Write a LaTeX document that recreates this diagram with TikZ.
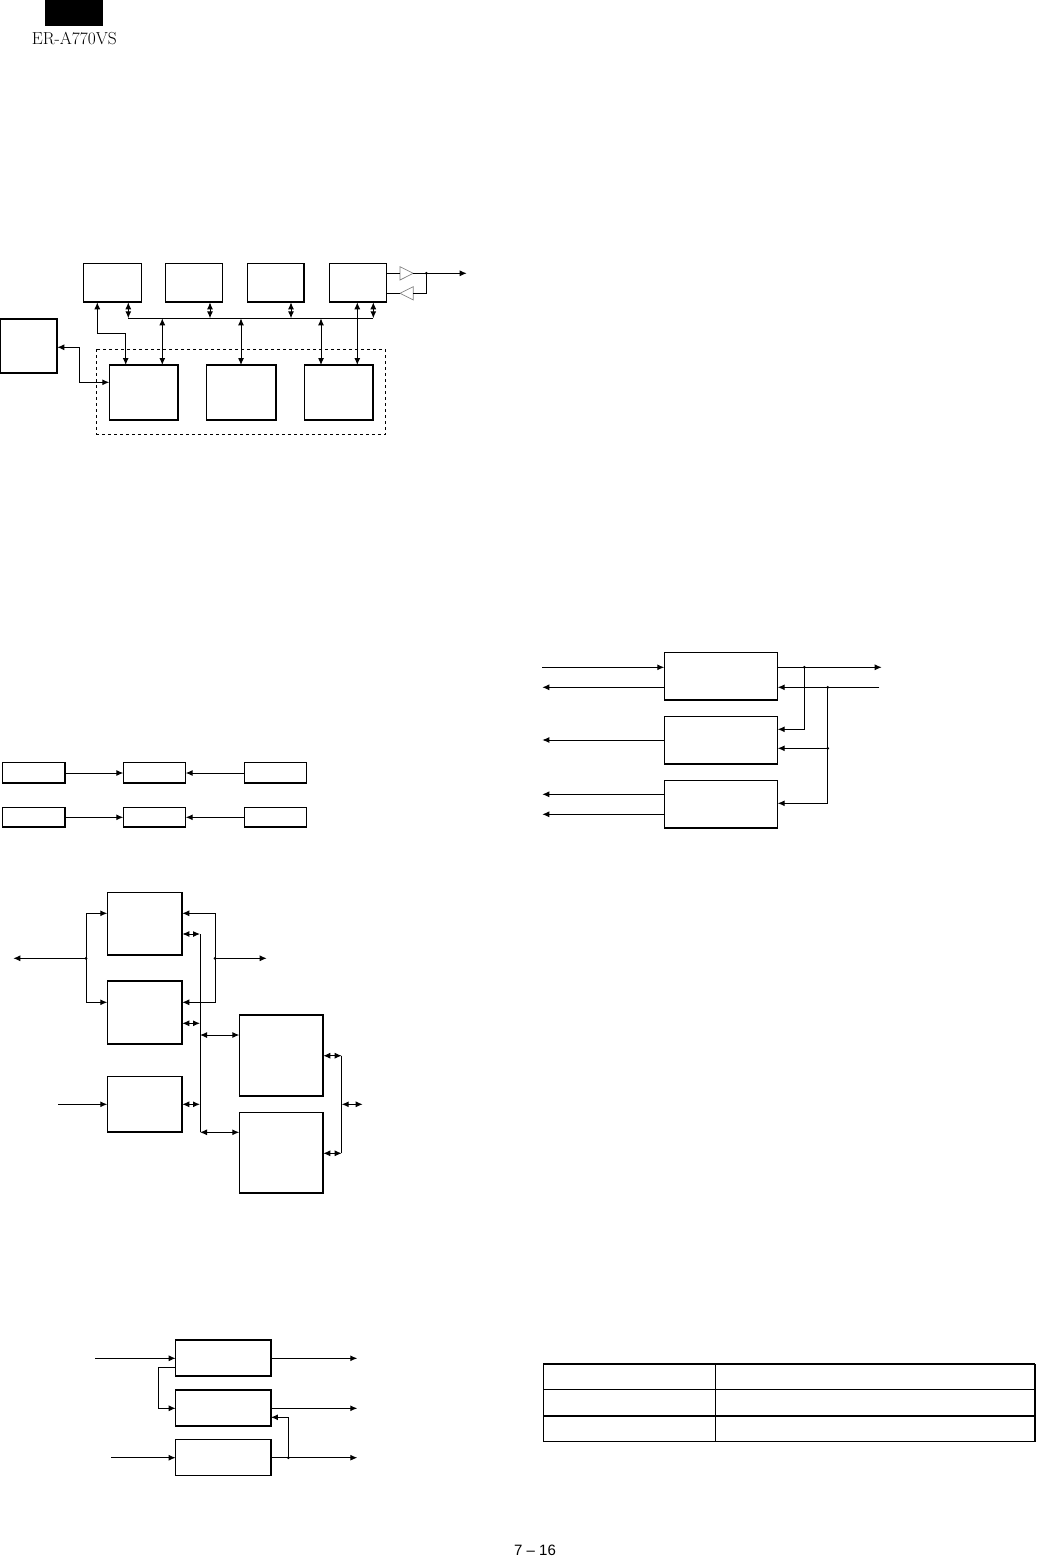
\documentclass[tikz,border=0pt]{standalone}
\usepackage{fontspec}
\newfontfamily\footfont{Liberation Sans}
\usetikzlibrary{arrows.meta}
\begin{document}
\begin{tikzpicture}[x=1pt,y=-1pt,
  box/.style={draw, line width=1.2pt, inner sep=0pt, outer sep=0pt,
    path picture={\draw[line width=2.4pt] (path picture bounding box.south west) -- (path picture bounding box.south east) -- (path picture bounding box.north east);}},
  conn/.style={line width=1pt},
  >={Latex[length=7pt,width=6pt]},
  buf/.style={draw=gray, line width=0.7pt},
  dotc/.style={circle, fill, inner sep=0pt, minimum size=3pt}]
\useasboundingbox (0,0) rectangle (1036,1557);

% ---------- header ----------
\fill (45,0) rectangle (103,26);
\node[anchor=base west, inner sep=0pt] (hdr) at (31.7,45) {\fontsize{17.4}{18}\selectfont ER-A770VS};

% ---------- section 1 ----------
\node[box, minimum width=58.4, minimum height=39] (b1) at (112.5,282.8) {};
\node[box, minimum width=57, minimum height=39] (b2) at (194.2,282.8) {};
\node[box, minimum width=57, minimum height=39] (b3) at (275.8,282.8) {};
\node[box, minimum width=57.4, minimum height=39] (b4) at (358,282.8) {};
\node[box, minimum width=56.8, minimum height=54.3] (L) at (28.9,346.2) {};
\node[box, minimum width=69, minimum height=55] (c1) at (143.8,392.5) {};
\node[box, minimum width=69.3, minimum height=55] (c2) at (241.3,392.5) {};
\node[box, minimum width=69, minimum height=55] (c3) at (338.8,392.5) {};
\draw[line width=0.8pt, dash pattern=on 3pt off 3pt] (96.7,349.3) rectangle (385.7,434);

\coordinate (t1) at (128.3,318.3);
\coordinate (t2) at (210,318.3);
\coordinate (t3) at (291,318.3);
\coordinate (t4) at (373.3,318.3);
\coordinate (u1) at (162.3,318.3);
\coordinate (u2) at (241,318.3);
\coordinate (u3) at (321,318.3);
\coordinate (m1) at (357.3,318.3);
\coordinate (k1) at (97.3,333.3);
\coordinate (k2) at (125.7,333.3);
\coordinate (j1) at (79.3,347.3);
\coordinate (j2) at (79.3,382.3);
\draw[conn] (t1) -- (t4);
\draw[conn,<->] (b1.south -| t1) -- (t1);
\draw[conn,<->] (b2.south -| t2) -- (t2);
\draw[conn,<->] (b3.south -| t3) -- (t3);
\draw[conn,<->] (b4.south -| t4) -- (t4);
\draw[conn,<->] (u1) -- (c1.north -| u1);
\draw[conn,<->] (u2) -- (c2.north -| u2);
\draw[conn,<->] (u3) -- (c3.north -| u3);
\draw[conn,<->] (b4.south -| m1) -- (c3.north -| m1);
\draw[conn,<->] (b1.south -| k1) -- (k1) -- (k2) -- (c1.north -| k2);
\draw[conn,<->] (L.east |- j1) -- (j1) -- (j2) -- (c1.west |- j2);

% buffers
\coordinate (tr1w) at (400,273.3);
\coordinate (tr1e) at (413.3,273.3);
\coordinate (dot1) at (426.3,273.3);
\coordinate (out1) at (466.7,273.3);
\coordinate (tr2w) at (400,293.3);
\coordinate (tr2e) at (413.3,293.3);
\coordinate (cr2) at (426.3,293.3);
\draw[buf] (400,266.7) -- (413.3,273.3) -- (400,280) -- cycle;
\draw[buf] (413.3,286.7) -- (400,293.3) -- (413.3,300) -- cycle;
\draw[conn] (b4.east |- tr1w) -- (tr1w);
\draw[conn,->] (tr1e) -- (out1);
\draw[conn] (b4.east |- tr2w) -- (tr2w);
\draw[conn] (tr2e) -- (cr2) -- (dot1);
\node[dotc] at (dot1) {};

% ---------- section 2 ----------
\node[box, minimum width=113.4, minimum height=48] (d1) at (721,676.3) {};
\node[box, minimum width=113.4, minimum height=48] (d2) at (721,740.3) {};
\node[box, minimum width=113.4, minimum height=48] (d3) at (721,804.3) {};
\coordinate (in1) at (542.3,667.3);
\coordinate (o1) at (542.3,687.3);
\coordinate (o2) at (542.3,740);
\coordinate (o3) at (542.3,794.3);
\coordinate (o4) at (542.3,814.3);
\coordinate (r1) at (881.7,667.3);
\coordinate (r2) at (879.3,687.3);
\coordinate (p1) at (804.3,667.3);
\coordinate (q1) at (804.3,729.3);
\coordinate (p2) at (827.7,687.3);
\coordinate (p3) at (827.7,748.3);
\coordinate (q3) at (827.7,803.3);
\draw[conn,->] (in1) -- (d1.west |- in1);
\draw[conn,->] (d1.west |- o1) -- (o1);
\draw[conn,->] (d2.west |- o2) -- (o2);
\draw[conn,->] (d3.west |- o3) -- (o3);
\draw[conn,->] (d3.west |- o4) -- (o4);
\draw[conn,->] (d1.east |- r1) -- (r1);
\draw[conn,->] (r2) -- (d1.east |- r2);
\draw[conn,->] (p1) -- (q1) -- (d2.east |- q1);
\draw[conn,->] (p2) -- (q3) -- (d3.east |- q3);
\draw[conn,->] (p3) -- (d2.east |- p3);
\node[dotc] at (p1) {};
\node[dotc] at (p2) {};
\node[dotc] at (p3) {};

% ---------- section 3 ----------
\node[box, minimum width=62.7, minimum height=20.6] (s1) at (33.7,773) {};
\node[box, minimum width=62.4, minimum height=20.6] (s2) at (154.5,773) {};
\node[box, minimum width=62.4, minimum height=20.6] (s3) at (275.5,773) {};
\node[box, minimum width=62.7, minimum height=20] (s4) at (33.7,817.3) {};
\node[box, minimum width=62.4, minimum height=20] (s5) at (154.5,817.3) {};
\node[box, minimum width=62.4, minimum height=20] (s6) at (275.5,817.3) {};
\draw[conn,->] (s1) -- (s2);
\draw[conn,->] (s3) -- (s2);
\draw[conn,->] (s4) -- (s5);
\draw[conn,->] (s6) -- (s5);

% ---------- section 4 ----------
\node[box, minimum width=75, minimum height=62.7] (e1) at (144.8,923.7) {};
\node[box, minimum width=75, minimum height=63] (e2) at (144.8,1012.5) {};
\node[box, minimum width=75, minimum height=55.6] (e3) at (144.8,1104.5) {};
\node[box, minimum width=84, minimum height=81] (f1) at (281.3,1055.5) {};
\node[box, minimum width=84, minimum height=80.6] (f2) at (281.3,1153) {};
\coordinate (a0) at (86,958.3);
\coordinate (a1) at (86,913.3);
\coordinate (a2) at (86,1002.3);
\coordinate (outL) at (13.3,958.3);
\coordinate (rb0) at (215,958.3);
\coordinate (rb1) at (215,913.3);
\coordinate (rb2) at (215,1002.3);
\coordinate (outR) at (266.7,958.3);
\coordinate (v1) at (200,934);
\coordinate (v2) at (200,1023.3);
\coordinate (v3) at (200,1104.3);
\coordinate (v4) at (200,1035);
\coordinate (v5) at (200,1132.3);
\coordinate (inE) at (58.3,1104.3);
\coordinate (w0) at (341.7,1104.3);
\coordinate (w1) at (341.7,1055.7);
\coordinate (w2) at (341.7,1153.3);
\coordinate (wout) at (362.7,1104.3);
\draw[conn,->] (a0) -- (outL);
\draw[conn,->] (a0) -- (a1) -- (e1.west |- a1);
\draw[conn,->] (a0) -- (a2) -- (e2.west |- a2);
\draw[conn,->] (rb0) -- (rb1) -- (e1.east |- rb1);
\draw[conn,->] (rb0) -- (rb2) -- (e2.east |- rb2);
\draw[conn,->] (rb0) -- (outR);
\node[dotc] at (a0) {};
\node[dotc] at (rb0) {};
\draw[conn] (v1) -- (v5);
\draw[conn,<->] (e1.east |- v1) -- (v1);
\draw[conn,<->] (e2.east |- v2) -- (v2);
\draw[conn,<->] (e3.east |- v3) -- (v3);
\draw[conn,<->] (v4) -- (f1.west |- v4);
\draw[conn,<->] (v5) -- (f2.west |- v5);
\draw[conn,->] (inE) -- (e3.west |- inE);
\draw[conn] (w1) -- (w2);
\draw[conn,<->] (f1.east |- w1) -- (w1);
\draw[conn,<->] (f2.east |- w2) -- (w2);
\draw[conn,<->] (w0) -- (wout);

% ---------- section 5 ----------
\node[box, minimum width=95.3, minimum height=36.7] (g1) at (223.3,1358.3) {};
\node[box, minimum width=95.3, minimum height=36.7] (g2) at (223.3,1408.3) {};
\node[box, minimum width=95.3, minimum height=36.4] (g3) at (223.3,1457.5) {};
\coordinate (in5a) at (95,1358.3);
\coordinate (in5b) at (111,1457.7);
\coordinate (h1) at (158.3,1367.3);
\coordinate (h2) at (158.3,1408.3);
\coordinate (ou1) at (357.3,1358.3);
\coordinate (ou2) at (357.3,1408.3);
\coordinate (ou3) at (357.3,1457.7);
\coordinate (dg) at (288.3,1457.7);
\coordinate (hg) at (288.3,1417.3);
\draw[conn,->] (in5a) -- (g1.west |- in5a);
\draw[conn,->] (g1.west |- h1) -- (h1) -- (h2) -- (g2.west |- h2);
\draw[conn,->] (in5b) -- (g3.west |- in5b);
\draw[conn,->] (g1.east |- ou1) -- (ou1);
\draw[conn,->] (g2.east |- ou2) -- (ou2);
\draw[conn,->] (g3.east |- ou3) -- (ou3);
\draw[conn,->] (dg) -- (hg) -- (g2.east |- hg);
\node[dotc] at (dg) {};

% ---------- table ----------
\draw[line width=1.2pt] (543.3,1364) -- (1034.8,1364);
\draw[line width=1.2pt] (543.3,1441.7) -- (1034.8,1441.7);
\draw[line width=1.2pt] (543.3,1364) -- (543.3,1441.7);
\draw[line width=2pt] (1035,1364) -- (1035,1441.7);
\draw[line width=1.2pt] (543.3,1389.3) -- (1034.8,1389.3);
\draw[line width=1.2pt] (543.3,1416) -- (1034.8,1416);
\draw[line width=1.2pt] (715.7,1364) -- (715.7,1441.7);

% ---------- footer ----------
\node[anchor=base, inner sep=0pt] (ftr) at (535,1555) {\footfont\fontsize{15}{15}\selectfont 7 – 16};
\end{tikzpicture}
\end{document}
